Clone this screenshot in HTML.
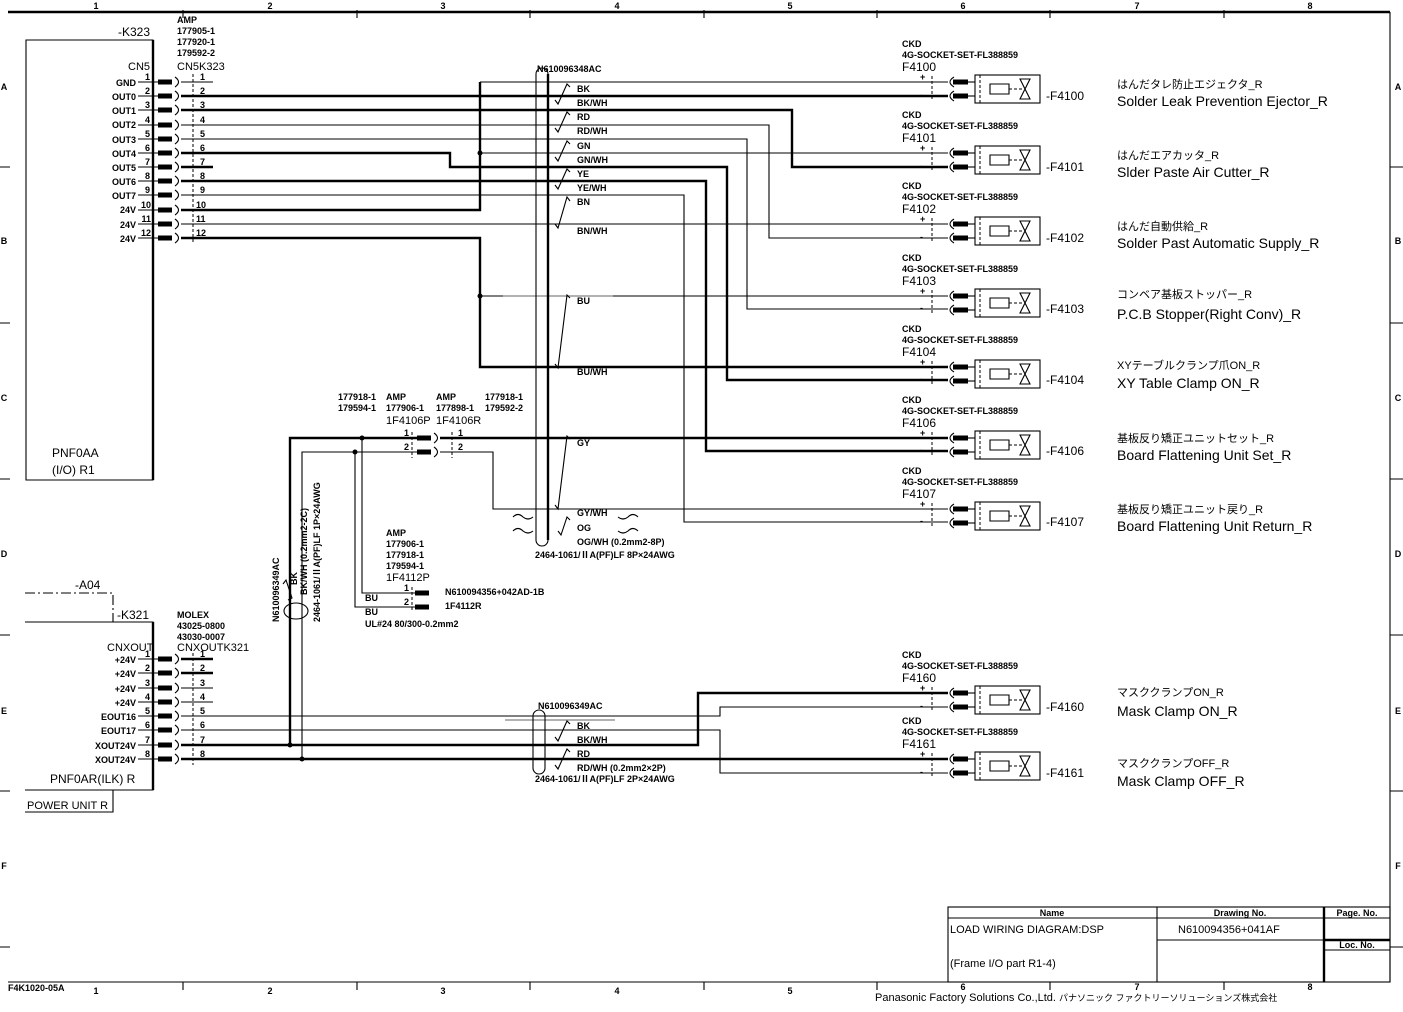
<!DOCTYPE html>
<html><head><meta charset="utf-8"><style>
html,body{margin:0;padding:0;background:#fff}
svg{display:block}
text{font-family:"Liberation Sans Narrow","Liberation Sans","Noto Sans CJK JP",sans-serif;fill:#000}
.s{font-size:9px;font-weight:bold}
.m{font-size:12px}
.n{font-size:11px}
.e{font-size:14px}
.j{font-size:11px}
.t{fill:none;stroke:#000;stroke-width:1.1}
.k{fill:none;stroke:#000;stroke-width:2.4}
.d{fill:none;stroke:#000;stroke-width:1;stroke-dasharray:3,2}
</style></head><body>
<svg width="1403" height="1012" viewBox="0 0 1403 1012" xmlns="http://www.w3.org/2000/svg">
<defs>
<g id="cp"><rect x="0" y="-2.5" width="14" height="5" fill="#000"/><path d="M17,-5 Q24,0 17,5" class="t"/></g>
<g id="cr"><rect x="0" y="-2.5" width="14" height="5" fill="#000"/></g>
<g id="dev">
<line x1="932" y1="-6" x2="932" y2="19" class="d"/>
<path d="M954,-5 Q946,0 954,5 M954,9 Q946,14 954,19" class="t"/>
<rect x="953" y="-2.5" width="15" height="5" fill="#000"/><rect x="953" y="11.5" width="15" height="5" fill="#000"/>
<line x1="968" y1="0" x2="975" y2="0" class="t"/><line x1="968" y1="14" x2="975" y2="14" class="t"/>
<rect x="975" y="-7" width="65" height="28" class="t"/>
<line x1="980" y1="-7" x2="980" y2="21" class="d"/>
<path d="M1009,2 L990,2 L990,12 L1009,12 Z" class="t"/>
<line x1="1009" y1="7" x2="1022" y2="7" class="d"/>
<path d="M1020,-3 L1030,-3 L1025,7 Z M1020,17 L1030,17 L1025,7 Z" class="t"/>
</g>
</defs>

<!-- frame -->
<line x1="8" y1="12" x2="1390" y2="12" class="k"/>
<line x1="1390" y1="12" x2="1390" y2="982" class="t"/>
<line x1="8" y1="982" x2="1390" y2="982" class="t"/>
<g class="t">
<path d="M183,10V18M357,10V18M530,10V18M704,10V18M877,10V18M1050,10V18M1224,10V18"/>
<path d="M183,982V990M357,982V990M530,982V990M704,982V990M877,982V990M1050,982V990M1224,982V990"/>
<path d="M0,167H10M0,323H10M0,479H10M0,635H10M0,791H10M0,947H10"/>
<path d="M1390,167H1403M1390,323H1403M1390,479H1403M1390,635H1403M1390,791H1403M1390,947H1403"/>
</g>
<g class="s" font-size="10" text-anchor="middle">
<text x="96" y="9">1</text><text x="270" y="9">2</text><text x="443" y="9">3</text><text x="617" y="9">4</text><text x="790" y="9">5</text><text x="963" y="9">6</text><text x="1137" y="9">7</text><text x="1310" y="9">8</text>
<text x="96" y="994">1</text><text x="270" y="994">2</text><text x="443" y="994">3</text><text x="617" y="994">4</text><text x="790" y="994">5</text><text x="963" y="990">6</text><text x="1137" y="990">7</text><text x="1310" y="990">8</text>
<text x="4" y="90">A</text><text x="4" y="244">B</text><text x="4" y="401">C</text><text x="4" y="557">D</text><text x="4" y="714">E</text><text x="4" y="869">F</text>
<text x="1398" y="90">A</text><text x="1398" y="244">B</text><text x="1398" y="401">C</text><text x="1398" y="557">D</text><text x="1398" y="714">E</text><text x="1398" y="869">F</text>
</g>
<text x="8" y="991" class="s">F4K1020-05A</text>
<text x="875" y="1001" class="n">Panasonic Factory Solutions Co.,Ltd. <tspan font-size="9">パナソニック ファクトリーソリューションズ株式会社</tspan></text>

<!-- title block -->
<rect x="948" y="907" width="442" height="75" class="t"/>
<line x1="948" y1="918" x2="1390" y2="918" class="t"/>
<line x1="1157" y1="907" x2="1157" y2="982" class="t"/>
<line x1="1324" y1="907" x2="1324" y2="982" class="k"/>
<line x1="1157" y1="940" x2="1324" y2="940" class="t"/>
<line x1="1324" y1="940" x2="1390" y2="940" class="k"/>
<line x1="1324" y1="950" x2="1390" y2="950" class="t"/>
<g class="s" font-size="8" text-anchor="middle"><text x="1052" y="916">Name</text><text x="1240" y="916">Drawing No.</text><text x="1357" y="916">Page. No.</text><text x="1357" y="948">Loc. No.</text></g>
<text x="950" y="933" class="n">LOAD WIRING DIAGRAM:DSP</text>
<text x="1178" y="933" class="n">N610094356+041AF</text>
<text x="950" y="967" class="n">(Frame I/O part R1-4)</text>

<!-- K323 -->
<path d="M26,40H153V480H26Z" class="t"/>
<line x1="153" y1="40" x2="153" y2="480" class="k"/>
<text x="118" y="36" class="m">-K323</text>
<text x="52" y="457" class="m">PNF0AA</text>
<text x="52" y="474" class="m">(I/O) R1</text>
<text x="128" y="70" class="n">CN5</text>
<g class="s"><text x="177" y="23">AMP</text><text x="177" y="34">177905-1</text><text x="177" y="45">177920-1</text><text x="177" y="56">179592-2</text></g>
<text x="177" y="70" class="n">CN5K323</text>
<line x1="193" y1="74" x2="193" y2="242" class="d"/>
<g class="s" text-anchor="end">
<text x="136" y="86">GND</text><text x="136" y="100">OUT0</text><text x="136" y="114">OUT1</text><text x="136" y="128">OUT2</text><text x="136" y="143">OUT3</text><text x="136" y="157">OUT4</text><text x="136" y="171">OUT5</text><text x="136" y="185">OUT6</text><text x="136" y="199">OUT7</text><text x="136" y="213">24V</text><text x="136" y="228">24V</text><text x="136" y="242">24V</text>
<text x="150" y="80">1</text><text x="150" y="94">2</text><text x="150" y="108">3</text><text x="150" y="123">4</text><text x="150" y="137">5</text><text x="150" y="151">6</text><text x="150" y="165">7</text><text x="150" y="179">8</text><text x="150" y="193">9</text><text x="151" y="208">10</text><text x="151" y="222">11</text><text x="151" y="236">12</text>
</g>
<g class="s">
<text x="200" y="80">1</text><text x="200" y="94">2</text><text x="200" y="108">3</text><text x="200" y="123">4</text><text x="200" y="137">5</text><text x="200" y="151">6</text><text x="200" y="165">7</text><text x="200" y="179">8</text><text x="200" y="193">9</text><text x="196" y="208">10</text><text x="196" y="222">11</text><text x="196" y="236">12</text>
</g>
<g class="t"><path d="M138,82H158M138,96H158M138,110H158M138,125H158M138,139H158M138,153H158M138,167H158M138,181H158M138,195H158M138,210H158M138,224H158M138,238H158"/></g>
<use href="#cp" x="158" y="82"/><use href="#cp" x="158" y="96"/><use href="#cp" x="158" y="110"/><use href="#cp" x="158" y="125"/><use href="#cp" x="158" y="139"/><use href="#cp" x="158" y="153"/><use href="#cp" x="158" y="167"/><use href="#cp" x="158" y="181"/><use href="#cp" x="158" y="195"/><use href="#cp" x="158" y="210"/><use href="#cp" x="158" y="224"/><use href="#cp" x="158" y="238"/>

<!-- top wires -->
<path d="M181,82H213" class="t"/>
<path d="M181,167H213" class="k"/>
<path d="M480,82H948" class="t"/>
<path d="M181,210H480V82" class="k"/>
<path d="M480,153H948" class="t"/>
<circle cx="480" cy="153" r="2.5"/>
<path d="M181,96H948" class="k"/>
<path d="M181,110H792V167H948" class="k"/>
<path d="M181,125H769V238H948" class="t"/>
<path d="M181,139H747V309H948" class="t"/>
<path d="M181,153H450V167H727V380H948" class="k"/>
<path d="M181,181H706V451H948" class="k"/>
<path d="M181,195H684V522H948" class="t"/>
<path d="M181,224H948" class="t"/>
<path d="M181,238H480V367H948" class="k"/>
<path d="M480,296H948" class="t"/>
<circle cx="480" cy="296" r="2.5"/>
<line x1="503" y1="296" x2="613" y2="296" stroke="#999" stroke-width="1.5"/>

<!-- top cable -->
<rect x="536" y="68" width="12" height="478" rx="6" class="t"/>
<line x1="548" y1="74" x2="548" y2="540" class="k"/>
<text x="537" y="72" class="s">N610096348AC</text>
<g class="t">
<path d="M570,87L567,84L558,104L555,100"/>
<path d="M570,115L567,112L558,132L555,128"/>
<path d="M570,144L567,141L558,161L555,157"/>
<path d="M570,172L567,169L558,189L555,185"/>
<path d="M570,201L567,197L558,228L555,224"/>
<path d="M570,298L567,295L558,368L555,364"/>
<path d="M570,439L567,436L558,509L555,505"/>
<path d="M570,520L567,517L561,535L558,531"/>
<path d="M513,517Q518,512 523,517Q528,521 533,517M513,531Q518,526 523,531Q528,535 533,531"/>
<path d="M618,517Q623,521 628,517Q633,512 638,517M618,531Q623,535 628,531Q633,526 638,531"/>
</g>
<g class="s">
<text x="577" y="92">BK</text><text x="577" y="106">BK/WH</text><text x="577" y="120">RD</text><text x="577" y="134">RD/WH</text><text x="577" y="149">GN</text><text x="577" y="163">GN/WH</text><text x="577" y="177">YE</text><text x="577" y="191">YE/WH</text><text x="577" y="205">BN</text><text x="577" y="234">BN/WH</text><text x="577" y="304">BU</text><text x="577" y="375">BU/WH</text><text x="577" y="446">GY</text><text x="577" y="516">GY/WH</text><text x="577" y="531">OG</text><text x="577" y="545">OG/WH (0.2mm2-8P)</text>
<text x="535" y="558">2464-1061/ⅡA(PF)LF 8P×24AWG</text>
</g>

<!-- 1F4106 -->
<g class="s"><text x="338" y="400">177918-1</text><text x="338" y="411">179594-1</text><text x="386" y="400">AMP</text><text x="386" y="411">177906-1</text><text x="436" y="400">AMP</text><text x="436" y="411">177898-1</text><text x="485" y="400">177918-1</text><text x="485" y="411">179592-2</text>
<text x="404" y="436">1</text><text x="404" y="450">2</text><text x="458" y="436">1</text><text x="458" y="450">2</text></g>
<text x="386" y="424" class="n">1F4106P</text><text x="436" y="424" class="n">1F4106R</text>
<line x1="412" y1="432" x2="412" y2="458" class="d"/><line x1="452" y1="432" x2="452" y2="458" class="d"/>
<use href="#cp" x="417" y="438"/><use href="#cp" x="417" y="452"/>
<path d="M290,745V438H417" class="k"/>
<path d="M302,759V452H417" class="t"/>
<circle cx="362" cy="438" r="2.5"/><circle cx="355" cy="452" r="2.5"/>
<circle cx="290" cy="745" r="2.5"/><circle cx="302" cy="759" r="2.5"/>
<path d="M440,438H948" class="k"/>
<path d="M440,452H493V509H948" class="t"/>
<path d="M362,438V593H415" class="t"/>
<path d="M355,452V607H415" class="t"/>
<use href="#cr" x="415" y="593"/><use href="#cr" x="415" y="607"/>
<line x1="412" y1="587" x2="412" y2="612" class="d"/>
<g class="s"><text x="386" y="536">AMP</text><text x="386" y="547">177906-1</text><text x="386" y="558">177918-1</text><text x="386" y="569">179594-1</text>
<text x="404" y="591">1</text><text x="404" y="605">2</text>
<text x="445" y="595">N610094356+042AD-1B</text><text x="445" y="609">1F4112R</text>
<text x="365" y="601">BU</text><text x="365" y="615">BU</text><text x="365" y="627">UL#24 80/300-0.2mm2</text></g>
<text x="386" y="581" class="n">1F4112P</text>
<ellipse cx="296" cy="611" rx="12" ry="8" class="t"/>
<path d="M288,600L292,598L286,580L283,584" class="t"/>
<g class="s">
<text transform="translate(279,622) rotate(-90)">N610096349AC</text>
<text transform="translate(297,585) rotate(-90)">BK</text>
<text transform="translate(307,595) rotate(-90)">BK/WH (0.2mm2-2C)</text>
<text transform="translate(320,622) rotate(-90)">2464-1061/ⅡA(PF)LF 1P×24AWG</text>
</g>

<!-- K321 -->
<path d="M25,593H113V622" class="t" stroke-dasharray="10,3,2,3"/>
<text x="75" y="589" class="m">-A04</text>
<text x="117" y="619" class="m">-K321</text>
<path d="M25,622H153V790H25" class="t"/>
<line x1="153" y1="622" x2="153" y2="790" class="k"/>
<path d="M25,812H113V790" class="t"/>
<text x="27" y="809" class="n">POWER UNIT R</text>
<text x="50" y="783" class="m">PNF0AR(ILK) R</text>
<text x="107" y="651" class="n">CNXOUT</text>
<g class="s"><text x="177" y="618">MOLEX</text><text x="177" y="629">43025-0800</text><text x="177" y="640">43030-0007</text></g>
<text x="177" y="651" class="n">CNXOUTK321</text>
<line x1="193" y1="653" x2="193" y2="765" class="d"/>
<g class="s" text-anchor="end">
<text x="136" y="663">+24V</text><text x="136" y="677">+24V</text><text x="136" y="692">+24V</text><text x="136" y="706">+24V</text><text x="136" y="720">EOUT16</text><text x="136" y="734">EOUT17</text><text x="136" y="749">XOUT24V</text><text x="136" y="763">XOUT24V</text>
<text x="150" y="657">1</text><text x="150" y="671">2</text><text x="150" y="686">3</text><text x="150" y="700">4</text><text x="150" y="714">5</text><text x="150" y="728">6</text><text x="150" y="743">7</text><text x="150" y="757">8</text>
</g>
<g class="s"><text x="200" y="657">1</text><text x="200" y="671">2</text><text x="200" y="686">3</text><text x="200" y="700">4</text><text x="200" y="714">5</text><text x="200" y="728">6</text><text x="200" y="743">7</text><text x="200" y="757">8</text></g>
<g class="t"><path d="M138,659H158M138,673H158M138,688H158M138,702H158M138,716H158M138,730H158M138,745H158M138,759H158"/></g>
<use href="#cp" x="158" y="659"/><use href="#cp" x="158" y="673"/><use href="#cp" x="158" y="688"/><use href="#cp" x="158" y="702"/><use href="#cp" x="158" y="716"/><use href="#cp" x="158" y="730"/><use href="#cp" x="158" y="745"/><use href="#cp" x="158" y="759"/>
<path d="M181,659H213M181,673H213" class="k"/>
<path d="M181,688H213M181,702H213" class="t"/>
<path d="M181,716H720V707H948" class="t"/>
<path d="M181,730H720V773H948" class="t"/>
<path d="M181,745H698V693H948" class="k"/>
<path d="M181,759H948" class="k"/>
<line x1="505" y1="720" x2="615" y2="720" stroke="#999" stroke-width="1.5"/>
<rect x="533" y="710" width="12" height="64" rx="6" class="t"/>
<path d="M570,724L567,721L558,741L555,737M570,752L567,749L558,769L555,765" class="t"/>
<g class="s"><text x="538" y="709">N610096349AC</text>
<text x="577" y="729">BK</text><text x="577" y="743">BK/WH</text><text x="577" y="757">RD</text><text x="577" y="771">RD/WH (0.2mm2×2P)</text>
<text x="535" y="782">2464-1061/ⅡA(PF)LF 2P×24AWG</text></g>

<!-- devices -->
<use href="#dev" y="82"/><use href="#dev" y="153"/><use href="#dev" y="224"/><use href="#dev" y="296"/><use href="#dev" y="367"/><use href="#dev" y="438"/><use href="#dev" y="509"/><use href="#dev" y="693"/><use href="#dev" y="759"/>

<g class="s">
<text x="902" y="47">CKD</text><text x="902" y="58">4G-SOCKET-SET-FL388859</text>
<text x="902" y="118">CKD</text><text x="902" y="129">4G-SOCKET-SET-FL388859</text>
<text x="902" y="189">CKD</text><text x="902" y="200">4G-SOCKET-SET-FL388859</text>
<text x="902" y="261">CKD</text><text x="902" y="272">4G-SOCKET-SET-FL388859</text>
<text x="902" y="332">CKD</text><text x="902" y="343">4G-SOCKET-SET-FL388859</text>
<text x="902" y="403">CKD</text><text x="902" y="414">4G-SOCKET-SET-FL388859</text>
<text x="902" y="474">CKD</text><text x="902" y="485">4G-SOCKET-SET-FL388859</text>
<text x="902" y="658">CKD</text><text x="902" y="669">4G-SOCKET-SET-FL388859</text>
<text x="902" y="724">CKD</text><text x="902" y="735">4G-SOCKET-SET-FL388859</text>
</g>
<g class="m">
<text x="902" y="71">F4100</text><text x="902" y="142">F4101</text><text x="902" y="213">F4102</text><text x="902" y="285">F4103</text><text x="902" y="356">F4104</text><text x="902" y="427">F4106</text><text x="902" y="498">F4107</text><text x="902" y="682">F4160</text><text x="902" y="748">F4161</text>
<text x="1046" y="100">-F4100</text><text x="1046" y="171">-F4101</text><text x="1046" y="242">-F4102</text><text x="1046" y="313">-F4103</text><text x="1046" y="384">-F4104</text><text x="1046" y="455">-F4106</text><text x="1046" y="526">-F4107</text><text x="1046" y="711">-F4160</text><text x="1046" y="777">-F4161</text>
</g>
<g class="s" font-size="10">
<text x="920" y="80">+</text><text x="920" y="98">-</text>
<text x="920" y="151">+</text><text x="920" y="169">-</text>
<text x="920" y="222">+</text><text x="920" y="240">-</text>
<text x="920" y="294">+</text><text x="920" y="311">-</text>
<text x="920" y="365">+</text><text x="920" y="382">-</text>
<text x="920" y="436">+</text><text x="920" y="453">-</text>
<text x="920" y="507">+</text><text x="920" y="524">-</text>
<text x="920" y="691">+</text><text x="920" y="709">-</text>
<text x="920" y="757">+</text><text x="920" y="775">-</text>
</g>
<g class="j">
<text x="1117" y="88">はんだタレ防止エジェクタ_R</text>
<text x="1117" y="159">はんだエアカッタ_R</text>
<text x="1117" y="230">はんだ自動供給_R</text>
<text x="1117" y="298">コンベア基板ストッパー_R</text>
<text x="1117" y="369">XYテーブルクランプ爪ON_R</text>
<text x="1117" y="442">基板反り矯正ユニットセット_R</text>
<text x="1117" y="513">基板反り矯正ユニット戻り_R</text>
<text x="1117" y="696">マスククランプON_R</text>
<text x="1117" y="767">マスククランプOFF_R</text>
</g>
<g class="e">
<text x="1117" y="106">Solder Leak Prevention Ejector_R</text>
<text x="1117" y="177">Slder Paste Air Cutter_R</text>
<text x="1117" y="248">Solder Past Automatic Supply_R</text>
<text x="1117" y="319">P.C.B Stopper(Right Conv)_R</text>
<text x="1117" y="388">XY Table Clamp ON_R</text>
<text x="1117" y="460">Board Flattening Unit Set_R</text>
<text x="1117" y="531">Board Flattening Unit Return_R</text>
<text x="1117" y="716">Mask Clamp ON_R</text>
<text x="1117" y="786">Mask Clamp OFF_R</text>
</g>
</svg>
</body></html>
